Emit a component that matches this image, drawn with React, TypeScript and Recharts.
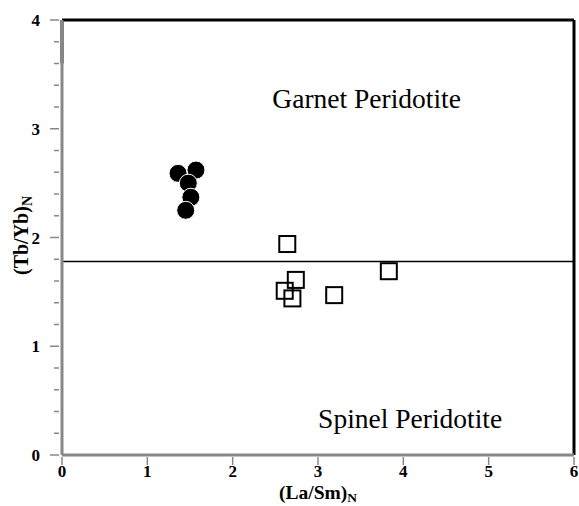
import React from "react";
import {
  ScatterChart,
  Scatter,
  XAxis,
  YAxis,
  ReferenceLine,
  ReferenceDot,
  Label,
} from "recharts";

const garnetX = [1.36, 1.57, 1.48, 1.51, 1.45];
const garnetY = [2.59, 2.62, 2.5, 2.37, 2.25];
const spinelX = [2.64, 2.74, 2.61, 2.7, 3.19, 3.83];
const spinelY = [1.94, 1.61, 1.51, 1.44, 1.47, 1.69];
const boundaryY = 1.78;
const xTicks = [0, 1, 2, 3, 4, 5, 6];
const yTicks = [0, 0.2, 0.4, 0.6, 0.8, 1, 1.2, 1.4, 1.6, 1.8, 2, 2.2, 2.4, 2.6, 2.8, 3, 3.2, 3.4, 3.6, 3.8, 4];
const yLabels = [0, 1, 2, 3, 4];
const fieldLabels = [
  { text: "Garnet Peridotite", x: 3.57, y: 3.19 },
  { text: "Spinel Peridotite", x: 4.08, y: 0.25 },
];

const circles = garnetX.map((x, i) => ({ x, y: garnetY[i] }));
const squares = spinelX.map((x, i) => ({ x, y: spinelY[i] }));

const SERIF = "'Liberation Serif', 'Times New Roman', serif";

const CircleShape = (p: any) => (
  <circle cx={p.cx} cy={p.cy} r={9} fill="#000" stroke="#fff" strokeWidth={1} />
);
const SquareShape = (p: any) => (
  <rect x={p.cx - 8} y={p.cy - 8} width={16} height={16} fill="none" stroke="#000" strokeWidth={2} />
);

const YTick = (p: any) => {
  const v = p.payload.value;
  const major = yLabels.some((l) => Math.abs(l - v) < 1e-6);
  return (
    <g>
      <line x1={p.x + (major ? -4 : 0)} x2={p.x + 5} y1={p.y} y2={p.y} stroke="#888" strokeWidth={1.5} />
      {major && (
        <text x={p.x - 14} y={p.y + 6} textAnchor="end" fontFamily={SERIF} fontWeight="bold" fontSize={17} fill="#000">
          {v}
        </text>
      )}
    </g>
  );
};

const XTick = (p: any) => (
  <g>
    <line x1={p.x} x2={p.x} y1={p.y - 6} y2={p.y + 2} stroke="#888" strokeWidth={1.5} />
    <text x={p.x} y={p.y + 14} textAnchor="middle" fontFamily={SERIF} fontWeight="bold" fontSize={17} fill="#000">
      {p.payload.value}
    </text>
  </g>
);

export default function App() {
  return (
    <div style={{ position: "absolute", left: 0, top: 0, background: "#fff" }}>
      <ScatterChart width={579} height={506} margin={{ top: 20, right: 5, left: 0, bottom: 21 }}>
        <XAxis
          type="number"
          dataKey="x"
          domain={[0, 6]}
          ticks={xTicks}
          interval={0}
          height={30}
          axisLine={{ stroke: "#888", strokeWidth: 3 }}
          tickLine={false}
          tick={<XTick />}
        >
          <Label
            value="(La/Sm)"
            content={(props: any) => {
              const vb = props.viewBox;
              const cx = vb.x + vb.width / 2;
              return (
                <text x={cx} y={499} textAnchor="middle" fontFamily={SERIF} fontWeight="bold" fontSize={19.5} fill="#000">
                  (La/Sm)<tspan fontSize={13.5} dy={3}>N</tspan>
                </text>
              );
            }}
          />
        </XAxis>
        <YAxis
          type="number"
          dataKey="y"
          domain={[0, 4]}
          ticks={yTicks}
          interval={0}
          width={62}
          axisLine={{ stroke: "#888", strokeWidth: 3 }}
          tickLine={false}
          tick={<YTick />}
        >
          <Label
            value="(Tb/Yb)"
            content={(props: any) => {
              const vb = props.viewBox;
              const cy = vb.y + vb.height / 2 - 2;
              return (
                <text x={0} y={0} transform={`translate(28, ${cy}) rotate(-90)`} textAnchor="middle" fontFamily={SERIF} fontWeight="bold" fontSize={20} fill="#000">
                  (Tb/Yb)<tspan fontSize={14} dy={4}>N</tspan>
                </text>
              );
            }}
          />
        </YAxis>
        <ReferenceLine y={4} stroke="#000" strokeWidth={3} />
        <ReferenceLine x={6} stroke="#000" strokeWidth={3} />
        <ReferenceLine
          segment={[{ x: 0, y: 3.6 }, { x: 0, y: 4 }]}
          stroke="#000"
          strokeWidth={3}
        />
        <ReferenceLine y={boundaryY} stroke="#000" strokeWidth={1.5} />
        {fieldLabels.map((f) => (
          <ReferenceDot
            key={f.text}
            x={f.x}
            y={f.y}
            r={0}
            shape={(p: any) => (
              <text x={p.cx} y={p.cy} textAnchor="middle" fontFamily={SERIF} fontSize={27.5} fill="#000">
                {f.text}
              </text>
            )}
          />
        ))}
        <Scatter data={circles} shape={<CircleShape />} isAnimationActive={false} />
        <Scatter data={squares} shape={<SquareShape />} isAnimationActive={false} />
      </ScatterChart>
    </div>
  );
}
